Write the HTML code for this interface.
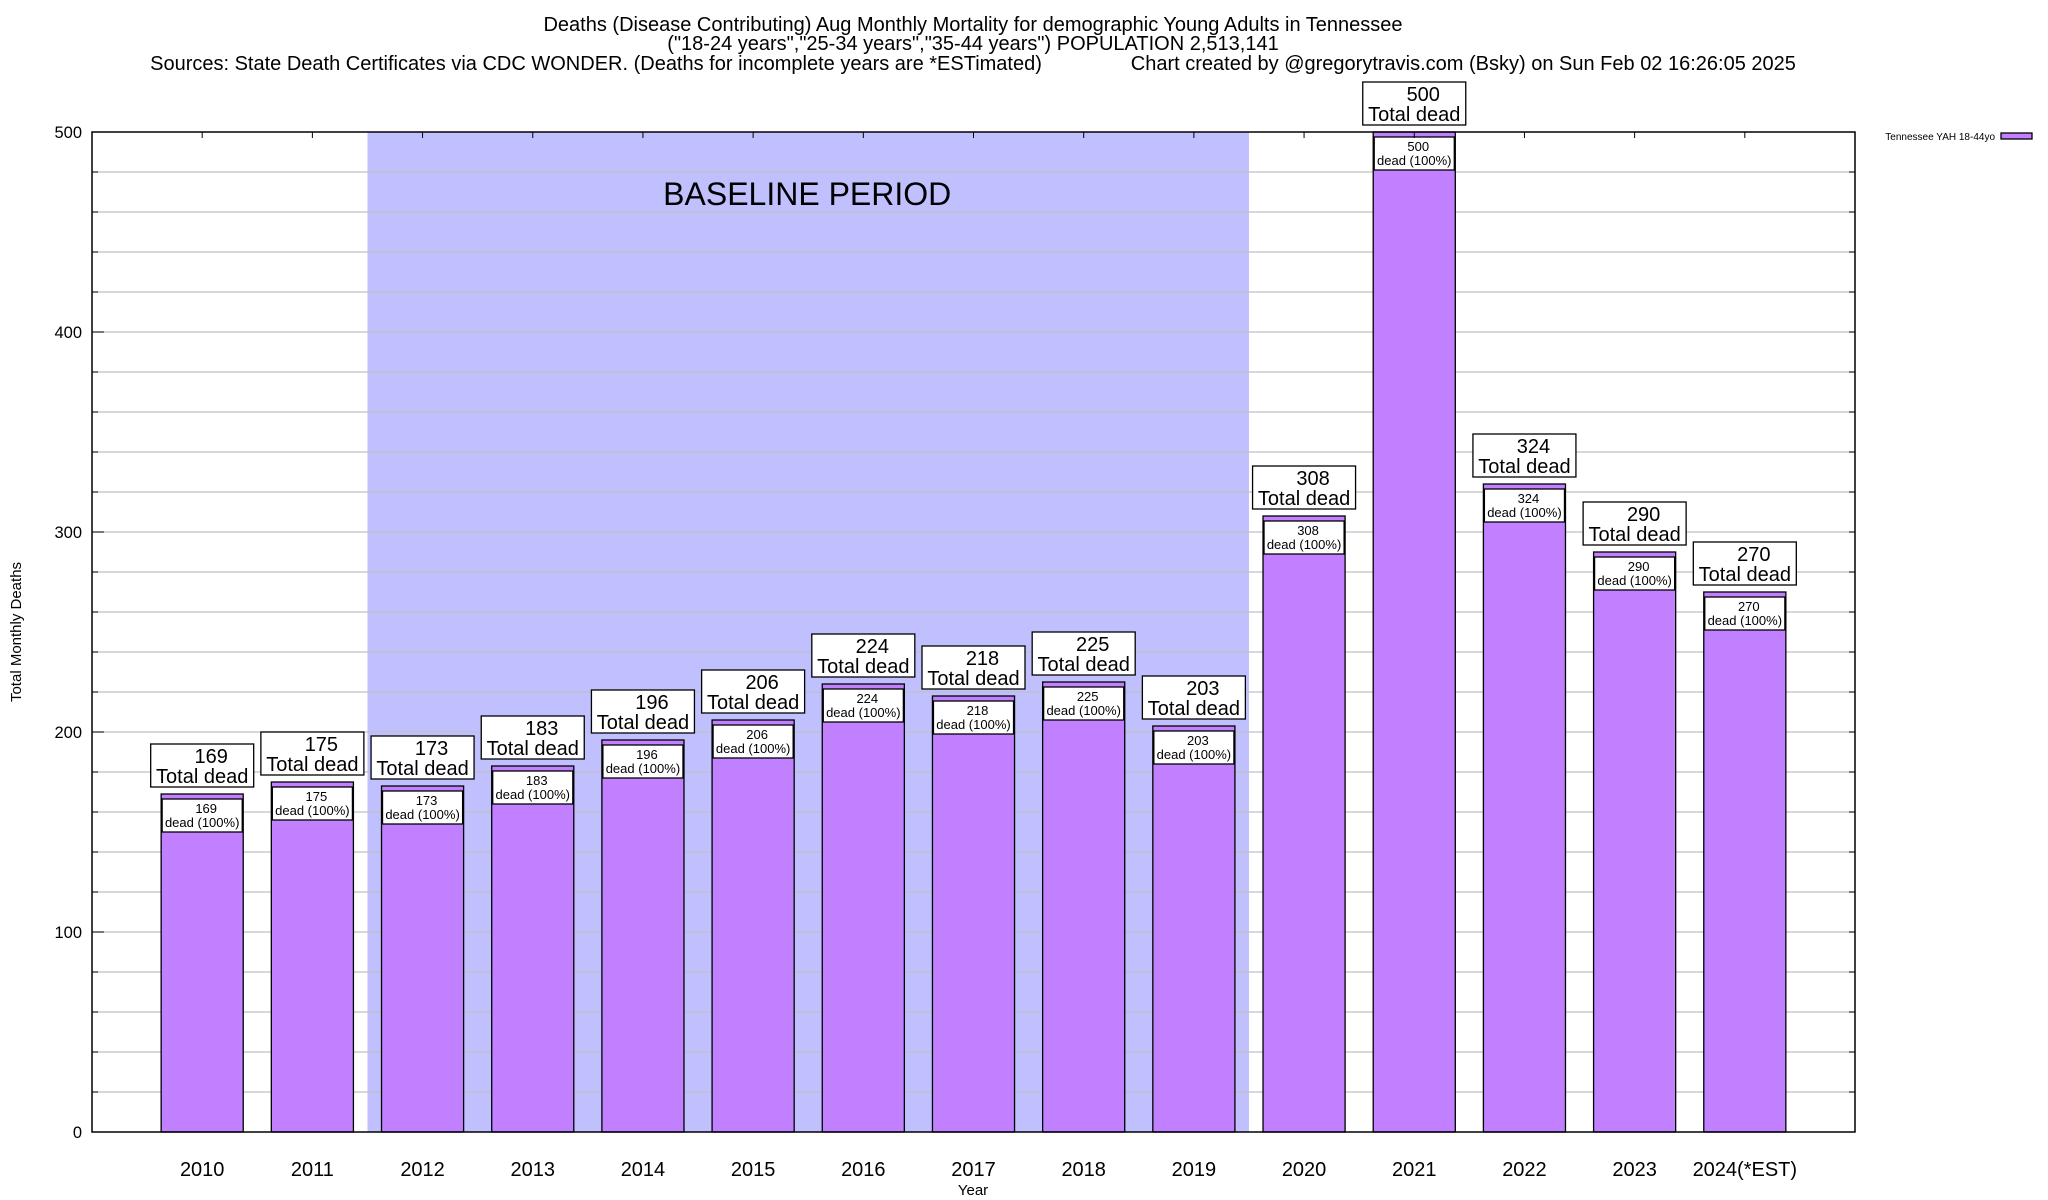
<!DOCTYPE html>
<html>
<head>
<meta charset="utf-8">
<style>
  html,body{margin:0;padding:0;background:#fff;}
  svg{display:block;font-family:"Liberation Sans",Arial,sans-serif;}
</style>
</head>
<body>
<svg id="chart" width="2048" height="1200" viewBox="0 0 2048 1200" xmlns="http://www.w3.org/2000/svg">
  <g font-size="20" text-anchor="middle" fill="#000">
    <text x="973" y="31">Deaths (Disease Contributing) Aug Monthly Mortality for demographic Young Adults in Tennessee</text>
    <text x="973" y="50">("18-24 years","25-34 years","35-44 years") POPULATION 2,513,141</text>
    <text x="973" y="70" xml:space="preserve">Sources: State Death Certificates via CDC WONDER. (Deaths for incomplete years are *ESTimated)                Chart created by @gregorytravis.com (Bsky) on Sun Feb 02 16:26:05 2025</text>
  </g>
  <g id="plot"></g>
</svg>
<script>
const categories = ["2010","2011","2012","2013","2014","2015","2016","2017","2018","2019","2020","2021","2022","2023","2024(*EST)"];
const deaths = [169,175,173,183,196,206,224,218,225,203,308,500,324,290,270];
const yTicks = [0,100,200,300,400,500];
const baselineStart = 2011.5;
const baselineEnd = 2019.5;
const firstYear = 2010;

const NS = "http://www.w3.org/2000/svg";
const L = 92, R = 1855, T = 132, B = 1132;
const xMin = 2009, xMax = 2025, yMin = 0, yMax = 500;
function xs(v){ return L + (v - xMin) * (R - L) / (xMax - xMin); }
function ys(v){ return B - (v - yMin) * (B - T) / (yMax - yMin); }
const plot = document.getElementById('plot');
function mk(tag, attrs, parent){
  const e = document.createElementNS(NS, tag);
  for (const k in attrs) e.setAttribute(k, attrs[k]);
  (parent || plot).appendChild(e);
  return e;
}

const shade = mk('rect', {x: xs(baselineStart), y: T, width: xs(baselineEnd) - xs(baselineStart), height: B - T, fill: '#c0c0ff'});



for (let v = 20; v < yMax; v += 20) {
  const g = mk('line', {x1: L, x2: R, y1: ys(v), y2: ys(v), stroke: '#c0c0c0', 'stroke-width': 1.3});
  
  
  const t1 = mk('line', {x1: L, x2: L + 6, y1: ys(v), y2: ys(v), stroke: '#000', 'stroke-width': 1});
  
  
  const t2 = mk('line', {x1: R - 6, x2: R, y1: ys(v), y2: ys(v), stroke: '#000', 'stroke-width': 1});
  
  
}

const bl = mk('text', {x: (xs(baselineStart) + xs(baselineEnd)) / 2 - 1, y: 205, 'font-size': 32, 'text-anchor': 'middle'});
bl.textContent = 'BASELINE PERIOD';



yTicks.forEach(v => {
  const t = mk('text', {x: L - 10, y: ys(v) + 6, 'font-size': 16.5, 'text-anchor': 'end'});
  t.textContent = v;
  
  
});

const barW = 0.745;
deaths.forEach((d, i) => {
  const c = firstYear + i;
  const x0 = xs(c - barW / 2), x1 = xs(c + barW / 2);
  const top = ys(d);
  const bar = mk('rect', {x: x0, y: top, width: x1 - x0, height: B - top, fill: '#c080ff', stroke: '#000', 'stroke-width': 1.3});
  
  

  const ib = mk('rect', {x: x0 + 1, y: top + 5, width: x1 - x0 - 2, height: 33, fill: '#fff', stroke: '#000', 'stroke-width': 1.3});
  
  
  const it1 = mk('text', {x: (x0 + x1) / 2 + 4, y: top + 19, 'font-size': 13, 'text-anchor': 'middle'});
  it1.textContent = d;
  
  
  const it2 = mk('text', {x: (x0 + x1) / 2, y: top + 33, 'font-size': 13, 'text-anchor': 'middle'});
  it2.textContent = 'dead (100%)';
  
  

  const cx = (x0 + x1) / 2;
  const tb = mk('rect', {x: cx - 51.5, y: top - 50, width: 103, height: 43, fill: '#fff', stroke: '#000', 'stroke-width': 1.3});
  
  
  const tt1 = mk('text', {x: cx + 9, y: top - 31, 'font-size': 20, 'text-anchor': 'middle'});
  tt1.textContent = d;
  
  
  const tt2 = mk('text', {x: cx, y: top - 11, 'font-size': 20, 'text-anchor': 'middle'});
  tt2.textContent = 'Total dead';
  
  

  const xl = mk('text', {x: xs(c), y: 1176, 'font-size': 20, 'text-anchor': 'middle'});
  xl.textContent = categories[i];
  
  

  const tk = mk('line', {x1: xs(c), x2: xs(c), y1: T, y2: T + 6, stroke: '#000', 'stroke-width': 1});
  
  
});

const fr = mk('rect', {x: L, y: T, width: R - L, height: B - T, fill: 'none', stroke: '#000', 'stroke-width': 1.5});



yTicks.forEach(v => {
  const a = mk('line', {x1: L, x2: L + 12, y1: ys(v), y2: ys(v), stroke: '#000', 'stroke-width': 1});
  
  
});

const yt = mk('text', {x: 0, y: 0, 'font-size': 15, 'text-anchor': 'middle', transform: 'translate(21,632) rotate(-90)'});
yt.textContent = 'Total Monthly Deaths';


const xt = mk('text', {x: 973, y: 1195, 'font-size': 15, 'text-anchor': 'middle'});
xt.textContent = 'Year';



const lg = mk('text', {x: 1995, y: 140, 'font-size': 10, 'text-anchor': 'end'});
lg.textContent = 'Tennessee YAH 18-44yo';


const ls = mk('rect', {x: 2001, y: 133, width: 31, height: 6, fill: '#c080ff', stroke: '#000', 'stroke-width': 1.3});


</script>
</body>
</html>
